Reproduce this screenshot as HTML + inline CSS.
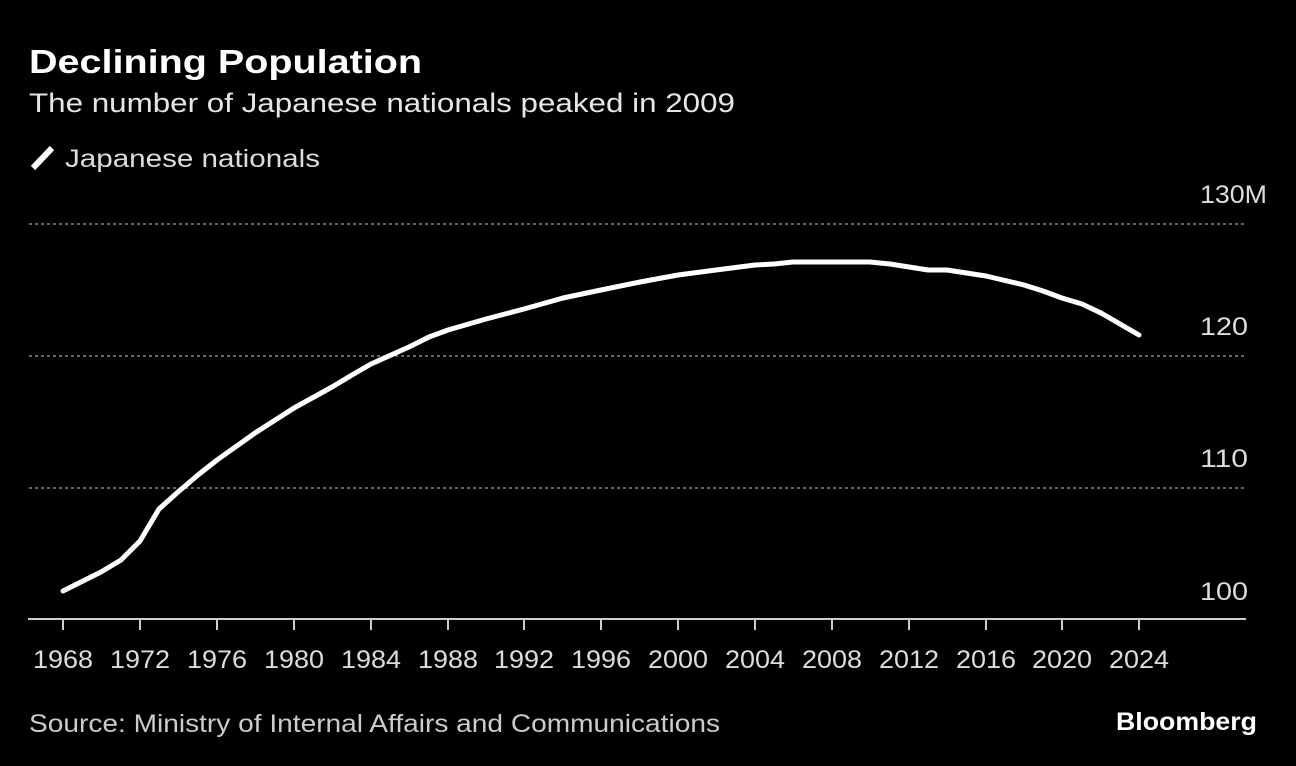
<!DOCTYPE html>
<html><head><meta charset="utf-8"><style>
html,body{margin:0;padding:0;background:#000;width:1296px;height:766px;overflow:hidden}
svg{display:block}
text{font-family:"Liberation Sans",sans-serif}
</style></head><body>
<svg width="1296" height="766" xmlns="http://www.w3.org/2000/svg">
<rect width="1296" height="766" fill="#000"/>
<text x="29" y="73" fill="#fff" font-size="33" font-weight="bold" textLength="393" lengthAdjust="spacingAndGlyphs">Declining Population</text>
<text x="29" y="112" fill="#e6e6e6" font-size="27" textLength="706" lengthAdjust="spacingAndGlyphs">The number of Japanese nationals peaked in 2009</text>
<line x1="33" y1="168" x2="52" y2="148" stroke="#fff" stroke-width="6"/>
<text x="65" y="167" fill="#ddd" font-size="25" textLength="255" lengthAdjust="spacingAndGlyphs">Japanese nationals</text>
<g stroke="#888" stroke-width="1.5" stroke-dasharray="3,3">
<line x1="29" y1="224" x2="1246" y2="224"/>
<line x1="29" y1="356" x2="1246" y2="356"/>
<line x1="29" y1="488" x2="1246" y2="488"/>
</g>
<g fill="#ddd" font-size="25">
<text x="1200" y="203" textLength="67" lengthAdjust="spacingAndGlyphs">130M</text>
<text x="1200" y="335" textLength="48" lengthAdjust="spacingAndGlyphs">120</text>
<text x="1200" y="467" textLength="48" lengthAdjust="spacingAndGlyphs">110</text>
<text x="1200" y="600" textLength="48" lengthAdjust="spacingAndGlyphs">100</text>
</g>
<line x1="28" y1="619" x2="1246" y2="619" stroke="#ccc" stroke-width="2"/>
<g stroke="#ccc" stroke-width="2">
<line x1="63" y1="619" x2="63" y2="630"/><line x1="140" y1="619" x2="140" y2="630"/><line x1="217" y1="619" x2="217" y2="630"/><line x1="294" y1="619" x2="294" y2="630"/><line x1="371" y1="619" x2="371" y2="630"/><line x1="448" y1="619" x2="448" y2="630"/><line x1="524" y1="619" x2="524" y2="630"/><line x1="601" y1="619" x2="601" y2="630"/><line x1="678" y1="619" x2="678" y2="630"/><line x1="755" y1="619" x2="755" y2="630"/><line x1="832" y1="619" x2="832" y2="630"/><line x1="909" y1="619" x2="909" y2="630"/><line x1="986" y1="619" x2="986" y2="630"/><line x1="1062" y1="619" x2="1062" y2="630"/><line x1="1139" y1="619" x2="1139" y2="630"/>
</g>
<g fill="#ddd" font-size="25" text-anchor="middle">
<text x="63" y="668" textLength="60" lengthAdjust="spacingAndGlyphs">1968</text><text x="140" y="668" textLength="60" lengthAdjust="spacingAndGlyphs">1972</text><text x="217" y="668" textLength="60" lengthAdjust="spacingAndGlyphs">1976</text><text x="294" y="668" textLength="60" lengthAdjust="spacingAndGlyphs">1980</text><text x="371" y="668" textLength="60" lengthAdjust="spacingAndGlyphs">1984</text><text x="448" y="668" textLength="60" lengthAdjust="spacingAndGlyphs">1988</text><text x="524" y="668" textLength="60" lengthAdjust="spacingAndGlyphs">1992</text><text x="601" y="668" textLength="60" lengthAdjust="spacingAndGlyphs">1996</text><text x="678" y="668" textLength="60" lengthAdjust="spacingAndGlyphs">2000</text><text x="755" y="668" textLength="60" lengthAdjust="spacingAndGlyphs">2004</text><text x="832" y="668" textLength="60" lengthAdjust="spacingAndGlyphs">2008</text><text x="909" y="668" textLength="60" lengthAdjust="spacingAndGlyphs">2012</text><text x="986" y="668" textLength="60" lengthAdjust="spacingAndGlyphs">2016</text><text x="1062" y="668" textLength="60" lengthAdjust="spacingAndGlyphs">2020</text><text x="1139" y="668" textLength="60" lengthAdjust="spacingAndGlyphs">2024</text>
</g>
<polyline fill="none" stroke="#fff" stroke-width="5" stroke-linejoin="round" stroke-linecap="round" points="63,591 101,572 121,560 140,541 159,509 178,492 198,475 217,460 255,433 294,408 332,387 352,375 371,364 409,347 429,337 448,330 486,319 524,309 563,298 601,290 640,282 678,275 716,270 755,265 774,264 793,262 870,262 890,264 928,270 947,270 986,276 1024,285 1043,291 1062,298 1082,304 1101,313 1120,324 1139,335"/>
<text x="29" y="732" fill="#ccc" font-size="25" textLength="691" lengthAdjust="spacingAndGlyphs">Source: Ministry of Internal Affairs and Communications</text>
<text x="1116" y="730" fill="#fff" font-size="25" font-weight="bold" textLength="141" lengthAdjust="spacingAndGlyphs">Bloomberg</text>
</svg>
</body></html>
